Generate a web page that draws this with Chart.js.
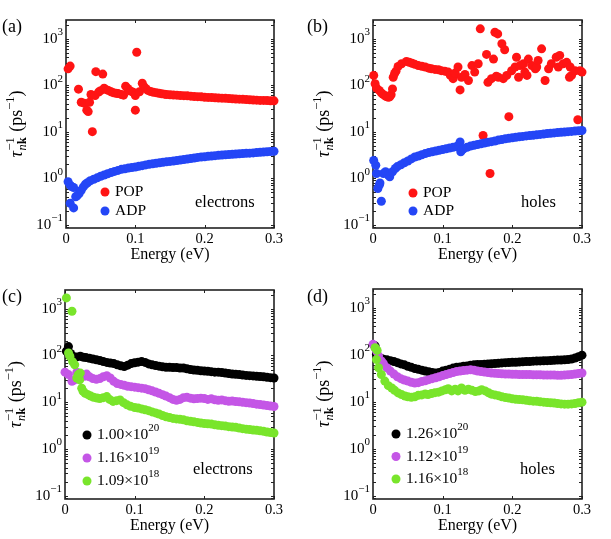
<!DOCTYPE html>
<html>
<head>
<meta charset="utf-8">
<script src="https://cdn.jsdelivr.net/npm/chart.js@4.4.0/dist/chart.umd.min.js"></script>
<style>
  html, body { margin: 0; padding: 0; background: #fff; }
  #wrap { position: relative; width: 611px; height: 539px; overflow: hidden; }
  canvas { position: absolute; }
</style>
</head>
<body>
<div id="wrap">
  <canvas id="pa" width="305" height="270" style="left:0;top:0"></canvas>
  <canvas id="pb" width="306" height="270" style="left:305px;top:0"></canvas>
  <canvas id="pc" width="305" height="269" style="left:0;top:270px"></canvas>
  <canvas id="pd" width="306" height="269" style="left:305px;top:270px"></canvas>
</div>
<script>
// ---- data (energy in eV, rate in 1/ps) ----

// (a) electrons, POP and ADP
const popElecE = [0.003,0.006,0.018,0.022,0.026,0.030,0.032,0.034,0.036,0.038,0.043,0.053,0.042,0.047,0.050,0.055,0.058,0.061,0.065,0.068,0.072,0.075,0.080,0.083,0.086,0.089,0.093,0.097,0.100,0.100,0.102,0.106,0.110,0.112,0.115,0.118,0.122,0.126,0.130,0.134,0.138,0.142,
  0.145,0.150,0.155,0.160,0.165,0.170,0.175,0.180,0.185,0.190,0.195,0.200,0.205,0.210,0.215,0.220,0.225,0.230,0.235,0.240,0.245,0.250,0.255,0.260,0.265,0.270,0.275,0.280,0.285,0.290,0.295,0.300];
const popElecRate = [224,257,82,43,41,29,27,43,63,10,195,173,60,71,76,86,80,77,72,69,67,66,63,61,95,85,75,70,60,29,510,72,110,95,85,77,73,70,69,67,65,64,
  63,62,61.5,61,60,59.5,59,58,57,56.5,56,55,54.5,54,53.5,53,52.5,52,51.5,51,50.5,50,49.5,49,48.5,48,47.5,47,47,46.5,46,46];
const adpElecE = [0.003,0.006,0.008,0.011,0.006,0.011,0.014,0.016,0.019,0.022,0.025,0.028,0.031,0.035,0.040,0.045,0.050,0.055,0.060,0.065,0.070,0.075,0.080,0.085,0.090,0.095,0.100,
  0.105,0.110,0.115,0.120,0.125,0.130,0.135,0.140,0.145,0.150,0.155,0.160,0.165,0.170,0.175,0.180,0.185,0.190,0.195,0.200,0.205,0.210,0.215,0.220,0.225,0.230,0.235,0.240,0.245,0.250,0.255,0.260,0.265,0.270,0.275,0.280,0.285,0.290,0.295,0.300];
const adpElecRate = [0.84,0.71,0.66,0.63,0.29,0.23,0.40,0.42,0.47,0.55,0.65,0.74,0.80,0.88,0.95,1.02,1.10,1.17,1.25,1.32,1.40,1.47,1.55,1.60,1.65,1.70,1.74,
  1.8,1.86,1.93,2.0,2.04,2.1,2.15,2.2,2.25,2.3,2.35,2.4,2.46,2.52,2.58,2.65,2.72,2.8,2.85,2.9,2.95,3.0,3.05,3.1,3.14,3.18,3.22,3.26,3.3,3.34,3.38,3.42,3.46,3.5,3.55,3.6,3.65,3.7,3.75,3.8];

// (b) holes, POP and ADP
const popHoleE = [0.001,0.003,0.005,0.009,0.012,0.017,0.022,0.026,0.028,0.029,0.033,0.036,0.041,0.048,0.056,0.060,0.065,0.070,0.075,0.080,
  0.084,0.089,0.094,0.098,0.103,0.108,0.111,0.115,0.118,0.122,0.125,0.127,0.132,0.137,0.142,0.146,0.151,0.154,0.158,0.163,
  0.165,0.168,0.170,0.173,0.175,0.177,0.179,0.180,0.185,0.187,0.189,0.192,0.195,0.199,0.204,0.206,0.209,0.211,0.216,0.218,
  0.221,0.223,0.228,0.233,0.235,0.237,0.242,0.247,0.252,0.256,0.263,0.266,0.268,0.273,0.278,0.282,0.283,0.285,0.290,0.294,
  0.297,0.300,0.014,0.019,0.024,0.031,0.052];
const popHoleRate = [162,107,87,77,68,60,55,62,83,148,200,251,288,324,295,280,263,255,245,232,
  224,218,214,205,200,191,162,138,182,245,79,148,170,126,263,191,288,1620,8.3,457,
  115,1.26,138,363,1370,155,1260,148,776,138,575,162,21,204,245,398,148,263,288,191,
  162,363,263,224,245,339,603,126,224,288,398,245,436,288,309,148,245,162,204,18,
  204,191,64,57,56,178,310];
const adpHoleE = [0.001,0.004,0.005,0.007,0.009,0.010,0.012,0.015,0.018,0.022,0.024,0.028,0.032,0.035,0.040,0.045,0.050,0.055,0.060,0.065,0.070,0.075,0.080,0.085,0.090,0.095,0.100,0.105,0.110,0.115,0.120,0.123,0.125,0.126,0.128,0.130,0.135,
  0.140,0.145,0.150,0.155,0.160,0.165,0.170,0.175,0.180,0.185,0.190,0.195,0.200,0.205,0.210,0.215,0.220,0.225,0.230,0.235,0.240,0.245,0.250,0.255,0.260,0.265,0.270,0.275,0.280,0.285,0.290,0.295,0.300];
const adpHoleRate = [2.4,1.9,1.26,0.60,0.71,0.79,0.32,1.26,1.38,1.17,1.07,1.38,1.62,1.78,1.95,2.15,2.35,2.6,2.85,3.0,3.2,3.38,3.55,3.7,3.85,4.0,4.15,4.3,4.45,4.6,4.8,5.1,6.0,3.7,4.1,4.3,4.6,
  4.9,5.1,5.3,5.5,5.7,5.9,6.1,6.3,6.6,6.8,7.05,7.2,7.4,7.55,7.75,7.9,8.1,8.25,8.4,8.6,8.75,8.9,9.1,9.25,9.4,9.55,9.7,9.85,10.0,10.15,10.3,10.45,10.6];

// (c) electrons, total rate at three concentrations (cm^-3)
const concElecMant = ['1.00', '1.16', '1.09'];
const concElecExp = ['20', '19', '18'];
const elecHighE = [0.002,0.005,0.008,0.012,0.017,0.022,0.026,
  0.030,0.035,0.040,0.045,0.050,0.055,0.060,0.065,0.070,0.075,0.080,0.085,0.090,0.095,0.100,0.105,0.110,0.115,0.120,0.125,0.130,0.135,0.140,0.145,0.150,0.155,0.160,0.165,0.170,0.175,0.180,0.185,0.190,0.195,0.200,0.205,0.210,0.215,0.220,0.225,0.230,0.235,0.240,0.245,0.250,0.255,0.260,0.265,0.270,0.275,0.280,0.285,0.290,0.295,0.300];
const elecHighRate = [123,155,110,95,93,96,92,
  90,87,84,81,78,74,71,69,67,63,60,58,62,67,70,72,74,71,66,63,61,59,57,56,56,55,55,54,54,52,50,49,48,47,46.5,46,45,44,44,43,42,41,40,39.5,39,38,37.5,37,36.5,36,35.5,35,34,33.5,33];
const elecMidE = [0.000,0.005,0.010,0.014,0.017,0.021,0.024,0.028,0.031,
  0.035,0.040,0.045,0.050,0.055,0.060,0.065,0.070,0.075,0.080,0.085,0.090,0.095,0.100,0.105,0.110,0.115,0.120,0.125,0.130,0.135,0.140,0.145,0.150,0.155,0.160,0.165,0.170,0.175,0.180,0.185,0.190,0.195,0.200,0.205,0.210,0.215,0.220,0.225,0.230,0.235,0.240,0.245,0.250,0.255,0.260,0.265,0.270,0.275,0.280,0.285,0.290,0.295,0.300];
const elecMidRate = [44,39,28,30,44,40,39,36,40,
  35,32,31,32,35,37,33,28,25,24,23,22,21.5,21,20.5,20,19.5,18.5,17.5,16.5,15.5,14.5,13.5,12.5,11.5,11,11.5,12.5,12.8,12.2,11.8,12,12.2,12,11.5,11.8,11.3,11,11.2,10.8,10.5,10.6,10.3,10.2,10,9.8,9.6,9.4,9.1,8.9,8.7,8.5,8.3,8.1];
const elecLowE = [0.002,0.010,0.005,0.007,0.011,0.014,0.017,0.019,0.021,0.022,0.024,0.026,0.029,0.033,0.037,0.041,0.046,0.050,0.055,0.060,0.064,0.069,0.074,0.079,0.084,0.089,0.094,0.100,
  0.105,0.110,0.115,0.120,0.125,0.130,0.135,0.140,0.145,0.150,0.155,0.160,0.165,0.170,0.175,0.180,0.185,0.190,0.195,0.200,0.205,0.210,0.215,0.220,0.225,0.230,0.235,0.240,0.245,0.250,0.255,0.260,0.265,0.270,0.275,0.280,0.285,0.290,0.295,0.300];
const elecLowRate = [1700,880,113,96,73,63,33,39,30,42,20,17,15.5,14.5,13.5,12.8,12.3,12,12.5,13.2,11.5,10.4,10.8,11.2,9.8,8.8,8.2,7.7,
  7.5,7.2,6.9,6.6,6.2,5.9,5.6,5.2,4.9,4.7,4.5,4.4,4.3,4.2,4.0,3.9,3.8,3.7,3.6,3.5,3.45,3.4,3.3,3.2,3.15,3.1,3.0,2.95,2.9,2.8,2.72,2.65,2.6,2.55,2.5,2.45,2.38,2.3,2.25,2.2];

// (d) holes, total rate at three concentrations (cm^-3)
const concHoleMant = ['1.26', '1.12', '1.16'];
const concHoleExp = ['20', '19', '18'];
const holeHighE = [0.003,0.005,0.008,0.012,
  0.015,0.020,0.025,0.030,0.035,0.040,0.045,0.050,0.055,0.060,0.065,0.070,0.075,0.080,0.085,0.090,0.095,0.100,0.105,0.110,0.115,0.120,0.125,0.130,0.135,0.140,0.145,0.150,0.155,0.160,0.165,0.170,0.175,0.180,0.185,0.190,0.195,0.200,0.205,0.210,0.215,0.220,0.225,0.230,0.235,0.240,0.245,0.250,0.255,0.260,0.265,0.270,0.275,0.280,0.285,0.290,0.295,0.300];
const holeHighRate = [155,102,90,83,
  80,78,75,72,68,64,61,57,54,51,49,47,45,43.5,42,41,42,45,47,49,52,54,55,57,58,60,61,62,62,63,64,64.5,65,66,67,68,68.5,69,69.5,70,71,71.5,72,73,73.5,74,74.5,75,75.5,76,77,77.5,78,79,81,85,91,98];
const holeMidE = [0.000,0.003,0.005,0.008,0.012,
  0.015,0.020,0.025,0.030,0.035,0.040,0.045,0.050,0.055,0.060,0.065,0.070,0.075,0.080,0.085,0.090,0.095,0.100,0.105,0.110,0.115,0.120,0.125,0.130,0.135,0.140,0.145,0.150,0.155,0.160,0.165,0.170,0.175,0.180,0.185,0.190,0.195,0.200,0.205,0.210,0.215,0.220,0.225,0.230,0.235,0.240,0.245,0.250,0.255,0.260,0.265,0.270,0.275,0.280,0.285,0.290,0.295,0.300];
const holeMidRate = [167,140,120,95,74,
  65,53,45,39,34,31,29,27.5,26,25,25.5,27,28,29.5,31,32.5,34,36,38,40,42,44,45,46,47,48,47,45,44,43,42,41,40.5,40,39.5,39,39,38.5,38.5,38,38,38,38,37.5,37.5,37.5,37,37,37,37,36.5,36.5,37,37.5,38,39,40,41];
const holeLowE = [0.003,0.006,0.005,0.008,0.012,0.017,0.022,0.027,0.031,0.036,0.041,0.046,0.050,0.055,0.060,0.065,0.070,0.075,0.079,0.084,0.089,0.094,0.099,0.104,0.108,0.113,0.118,0.122,0.127,0.132,0.137,0.142,0.147,0.152,0.156,0.161,0.166,0.170,0.175,
  0.180,0.185,0.190,0.195,0.200,0.205,0.210,0.215,0.220,0.225,0.230,0.235,0.240,0.245,0.250,0.255,0.260,0.265,0.270,0.275,0.280,0.285,0.290,0.295,0.300];
const holeLowRate = [141,124,79,53,38,27.5,22,19.6,17.5,15.4,14.2,13.2,12.8,12.4,12.8,13.7,14,14.6,14.2,15,15.6,16,17,18,19,17,18.5,17,19.6,17.5,18.5,17.5,16.5,17,18,17,15.5,14.5,14,
  13.5,12.8,12.3,12,11.6,11.3,11.1,11,10.7,10.5,10.3,10.2,10,9.8,9.6,9.5,9.4,9.2,9,8.9,8.9,9,9.2,9.5,9.8];

// axis ticks
const energyTicks = [0, 0.1, 0.2, 0.3];
const energyTickLabels = ['0', '0.1', '0.2', '0.3'];
const rateTickExp = [-1, 0, 1, 2, 3];

// ---- styling ----
const SERIF = '"Liberation Serif", "Times New Roman", serif';
const AXIS = '#222222';
const RED = '#ff1414', BLUE = '#2446f6', BLACK = '#000000', PURPLE = '#c456e6', GREEN = '#79e52b';
const Y_MIN = Math.pow(10, -1.07), Y_MAX = Math.pow(10, 3.4);

function series(E, R, color, order) {
  return {
    data: E.map((e, i) => ({ x: e, y: R[i] })),
    backgroundColor: color,
    borderWidth: 0,
    pointRadius: 4.5,
    pointHoverRadius: 4.5,
    order: order,
    clip: false
  };
}

// "10" + superscript, or "m×10" + superscript
function powParts(mant, exp, bigPx, smallPx) {
  return [
    { t: (mant ? mant + '×' : '') + '10', f: bigPx + 'px ' + SERIF, dy: 0 },
    { t: exp.replace('-', '−'), f: smallPx + 'px ' + SERIF, dy: -6.5 }
  ];
}
function partsWidth(ctx, parts) {
  let w = 0;
  parts.forEach(p => { ctx.font = p.f; w += ctx.measureText(p.t).width; });
  return w;
}
function drawParts(ctx, parts, x, y) {
  parts.forEach(p => {
    ctx.font = p.f;
    ctx.fillText(p.t, x, y + p.dy);
    x += ctx.measureText(p.t).width;
  });
}

function drawYTitle(ctx, cx, cy) {
  const big = '18px ' + SERIF, itBig = 'italic 18px ' + SERIF;
  const sm = '12.5px ' + SERIF, itSm = 'italic 12.5px ' + SERIF, bdSm = 'bold 12.5px ' + SERIF;
  ctx.save();
  ctx.translate(cx, cy);
  ctx.rotate(-Math.PI / 2);
  ctx.textBaseline = 'alphabetic';
  ctx.textAlign = 'left';
  const w = (f, t) => { ctx.font = f; return ctx.measureText(t).width; };
  const wTau = w(itBig, 'τ'), wSup = w(sm, '−1'), wN = w(itSm, 'n'), wK = w(bdSm, 'k');
  const wGroup = Math.max(wSup, wN + wK) + 1;
  const wPs = w(big, ' (ps'), wSup2 = w(sm, '−1'), wClose = w(big, ')');
  let x = -(wTau + 0.5 + wGroup + wPs + wSup2 + wClose) / 2;
  ctx.font = itBig; ctx.fillText('τ', x, 0); x += wTau + 0.5;
  ctx.font = sm; ctx.fillText('−1', x, -8);
  ctx.font = itSm; ctx.fillText('n', x, 4);
  ctx.font = bdSm; ctx.fillText('k', x + wN, 4);
  x += wGroup;
  ctx.font = big; ctx.fillText(' (ps', x, 0); x += wPs;
  ctx.font = sm; ctx.fillText('−1', x, -8); x += wSup2;
  ctx.font = big; ctx.fillText(')', x, 0);
  ctx.restore();
}

const frame = {
  id: 'frame',
  beforeDatasetsDraw(chart, args, opts) {
    const { ctx, chartArea: a, scales: { x, y } } = chart;
    ctx.save();
    ctx.strokeStyle = AXIS;
    ctx.lineWidth = 1;
    ctx.beginPath();
    energyTicks.forEach(v => {
      const px = Math.round(x.getPixelForValue(v)) + 0.5;
      ctx.moveTo(px, a.bottom); ctx.lineTo(px, a.bottom - 3);
      ctx.moveTo(px, a.top); ctx.lineTo(px, a.top + 3);
    });
    for (let e = -2; e <= 3; e++) {
      for (let k = 1; k <= 9; k++) {
        const v = k * Math.pow(10, e);
        if (v < Y_MIN || v > Y_MAX) continue;
        const py = Math.round(y.getPixelForValue(v)) + 0.5;
        ctx.moveTo(a.left, py); ctx.lineTo(a.left + 3, py);
        ctx.moveTo(a.right, py); ctx.lineTo(a.right - 3, py);
      }
    }
    ctx.stroke();
    ctx.lineWidth = 1.6;
    ctx.strokeRect(a.left, a.top, a.right - a.left, a.bottom - a.top);
    ctx.restore();
  },
  afterDraw(chart, args, opts) {
    const { ctx, chartArea: a, scales: { x, y } } = chart;
    ctx.save();
    ctx.fillStyle = '#000';
    ctx.textBaseline = 'middle';

    // energy tick labels and title
    ctx.textAlign = 'center';
    ctx.font = '14.5px ' + SERIF;
    energyTicks.forEach((v, i) => ctx.fillText(energyTickLabels[i], x.getPixelForValue(v), a.bottom + 11));
    ctx.font = '16px ' + SERIF;
    ctx.fillText('Energy (eV)', (a.left + a.right) / 2, a.bottom + 27);

    // rate tick labels
    ctx.textAlign = 'left';
    rateTickExp.forEach(e => {
      const parts = powParts('', String(e), 15, 11);
      const w = partsWidth(ctx, parts);
      drawParts(ctx, parts, a.left - 3 - w, y.getPixelForValue(Math.pow(10, e)));
    });
    drawYTitle(ctx, a.left - 44, (a.top + a.bottom) / 2);

    // panel tag
    ctx.font = '18px ' + SERIF;
    ctx.fillText(opts.tag, 2, 27);

    // carrier note
    ctx.font = '16.5px ' + SERIF;
    ctx.fillText(opts.note.t, opts.note.x, opts.note.y);

    // legend
    const lg = opts.legend;
    lg.items.forEach((it, i) => {
      const cy = lg.y + i * lg.dy;
      ctx.fillStyle = chart.data.datasets[it.ds].backgroundColor;
      ctx.beginPath();
      ctx.arc(lg.x, cy, 4.5, 0, Math.PI * 2);
      ctx.fill();
      ctx.fillStyle = '#000';
      drawParts(ctx, it.parts, lg.x + 10, cy);
    });
    ctx.restore();
  }
};

function makePanel(id, pad, datasets, decor) {
  return new Chart(document.getElementById(id), {
    type: 'scatter',
    data: { datasets: datasets },
    options: {
      responsive: false,
      animation: false,
      events: [],
      devicePixelRatio: 1,
      layout: { padding: pad, autoPadding: false },
      plugins: { legend: { display: false }, tooltip: { enabled: false }, frame: decor },
      scales: {
        x: {
          type: 'linear', min: 0, max: 0.3,
          grid: { display: false }, border: { display: false }, ticks: { display: false },
          afterFit: s => { s.height = 0; }
        },
        y: {
          type: 'logarithmic', min: Y_MIN, max: Y_MAX,
          grid: { display: false }, border: { display: false }, ticks: { display: false },
          afterFit: s => { s.width = 0; }
        }
      }
    },
    plugins: [frame]
  });
}

const txt = t => [{ t: t, f: '15.5px ' + SERIF, dy: 0 }];
const concParts = (m, e) => powParts(m, e, 15.5, 11);

makePanel('pa', { left: 66, top: 20, right: 31, bottom: 42 },
  [series(popElecE, popElecRate, RED, 2), series(adpElecE, adpElecRate, BLUE, 1)],
  { tag: '(a)', note: { t: 'electrons', x: 195, y: 203 },
    legend: { x: 105, y: 192, dy: 19, items: [{ ds: 0, parts: txt('POP') }, { ds: 1, parts: txt('ADP') }] } });

makePanel('pb', { left: 68, top: 20, right: 29, bottom: 42 },
  [series(popHoleE, popHoleRate, RED, 2), series(adpHoleE, adpHoleRate, BLUE, 1)],
  { tag: '(b)', note: { t: 'holes', x: 216, y: 203 },
    legend: { x: 108, y: 193, dy: 18, items: [{ ds: 0, parts: txt('POP') }, { ds: 1, parts: txt('ADP') }] } });

makePanel('pc', { left: 65, top: 20, right: 31, bottom: 40 },
  [series(elecHighE, elecHighRate, BLACK, 3), series(elecMidE, elecMidRate, PURPLE, 2), series(elecLowE, elecLowRate, GREEN, 1)],
  { tag: '(c)', note: { t: 'electrons', x: 193, y: 200 },
    legend: { x: 87, y: 165, dy: 23, items: concElecMant.map((m, i) => ({ ds: i, parts: concParts(m, concElecExp[i]) })) } });

makePanel('pd', { left: 68, top: 19, right: 29, bottom: 40 },
  [series(holeHighE, holeHighRate, BLACK, 3), series(holeMidE, holeMidRate, PURPLE, 2), series(holeLowE, holeLowRate, GREEN, 1)],
  { tag: '(d)', note: { t: 'holes', x: 215, y: 200 },
    legend: { x: 91, y: 164, dy: 22.5, items: concHoleMant.map((m, i) => ({ ds: i, parts: concParts(m, concHoleExp[i]) })) } });
</script>
</body>
</html>
